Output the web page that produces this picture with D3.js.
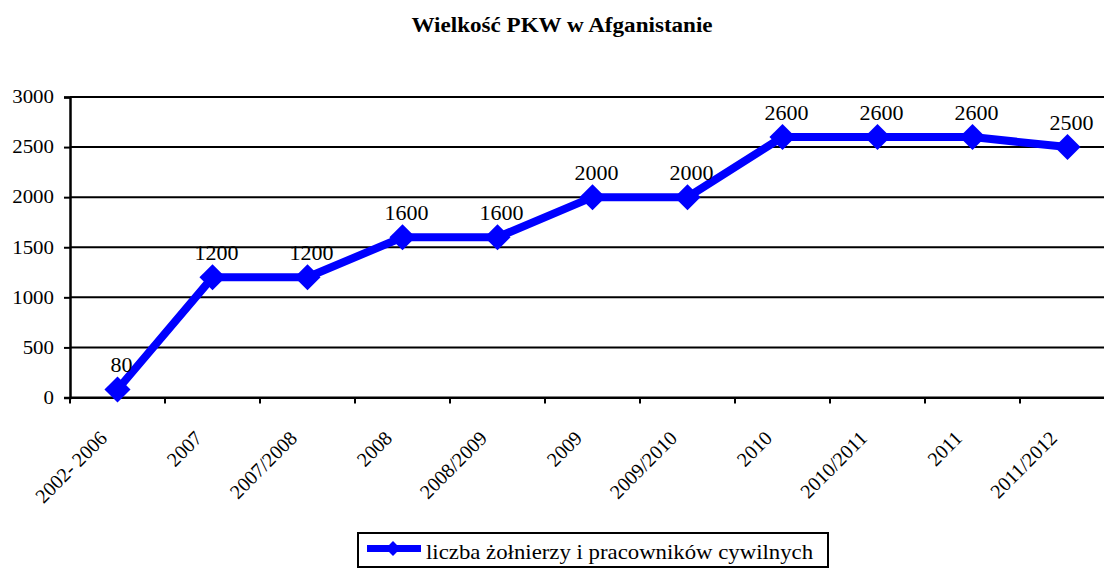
<!DOCTYPE html>
<html>
<head>
<meta charset="utf-8">
<script src="https://cdn.jsdelivr.net/npm/d3@7"></script>
<style>
  body { margin: 0; background: #fff; }
</style>
</head>
<body>
<svg id="chart" width="1104" height="568"></svg>
<script>
const width = 1104;
const height = 568;
const fontName = "Liberation Serif";
const stretch = 1.1; // reference text is slightly wider than tall

const categories = ["2002- 2006", "2007", "2007/2008", "2008", "2008/2009", "2009",
    "2009/2010", "2010", "2010/2011", "2011", "2011/2012"];
const values = [80, 1200, 1200, 1600, 1600, 2000, 2000, 2600, 2600, 2600, 2500];
const yTicks = [0, 500, 1000, 1500, 2000, 2500, 3000];
const seriesName = "liczba żołnierzy i pracowników cywilnych";
const title = "Wielkość PKW w Afganistanie";

const margin = { left: 70, top: 97, bottom: 397.5 };
const step = 95;

let svg = d3.select("#chart");

let x = d3.scaleBand()
    .domain(categories)
    .range([margin.left, margin.left + step * categories.length]);

let y = d3.scaleLinear()
    .domain([0, 3000])
    .range([margin.bottom, margin.top]);

const cx = d => x(d) + x.bandwidth() / 2;

svg.append("text")
    .attr("transform", `translate(562,32) scale(${stretch},1)`)
    .attr("text-anchor", "middle")
    .attr("font-family", fontName)
    .attr("font-size", "21px")
    .attr("font-weight", "bold")
    .text(title);

// gridlines
svg.append("g")
    .selectAll("line")
    .data(yTicks)
    .join("line")
    .attr("x1", margin.left)
    .attr("x2", width)
    .attr("y1", d => y(d))
    .attr("y2", d => y(d))
    .attr("stroke", "#000")
    .attr("stroke-width", 2);

// y axis
let yAxis = svg.append("g")
    .attr("transform", `translate(${margin.left},0)`)
    .call(d3.axisLeft(y).tickValues(yTicks).tickSize(6).tickFormat(""));
yAxis.select(".domain").attr("stroke-width", 2.5);
yAxis.selectAll(".tick line").attr("stroke-width", 2);

svg.append("g")
    .selectAll("text")
    .data(yTicks)
    .join("text")
    .attr("transform", d => `translate(54,${y(d)}) scale(${stretch},1)`)
    .attr("text-anchor", "end")
    .attr("dy", "0.33em")
    .attr("font-family", fontName)
    .attr("font-size", "19px")
    .text(d => d);

// x axis
let xAxis = svg.append("g")
    .attr("transform", `translate(0,${y(0)})`)
    .call(d3.axisBottom(x).tickSize(0).tickFormat(""));
xAxis.select(".domain").attr("stroke-width", 2);

svg.append("g")
    .selectAll("line")
    .data(categories)
    .join("line")
    .attr("x1", d => x(d))
    .attr("x2", d => x(d))
    .attr("y1", y(0))
    .attr("y2", y(0) + 6)
    .attr("stroke", "#000")
    .attr("stroke-width", 2);

svg.append("g")
    .selectAll("text")
    .data(categories)
    .join("text")
    .attr("transform", d => `translate(${cx(d) - 19},${y(0) + 32}) rotate(-45)`)
    .attr("text-anchor", "end")
    .attr("dy", "0.7em")
    .attr("font-family", fontName)
    .attr("font-size", "20px")
    .text(d => d);

// series
const pts = categories.map((c, i) => ({ cat: c, value: values[i] }));

let line = d3.line()
    .x(d => cx(d.cat))
    .y(d => y(d.value));

svg.append("path")
    .datum(pts)
    .attr("d", line)
    .attr("fill", "none")
    .attr("stroke", "#0000ff")
    .attr("stroke-width", 8)
    .attr("stroke-linejoin", "miter");

svg.append("g")
    .selectAll("path")
    .data(pts)
    .join("path")
    .attr("transform", d => `translate(${cx(d.cat)},${y(d.value)}) rotate(45)`)
    .attr("d", d3.symbol().type(d3.symbolSquare).size(340))
    .attr("fill", "#0000ff");

svg.append("g")
    .selectAll("text")
    .data(pts)
    .join("text")
    .attr("transform", d => `translate(${cx(d.cat) + 4},${y(d.value) - 17}) scale(${stretch},1)`)
    .attr("text-anchor", "middle")
    .attr("font-family", fontName)
    .attr("font-size", "20px")
    .text(d => d.value);

// legend
let legend = svg.append("g").attr("transform", "translate(358,533)");
legend.append("rect")
    .attr("width", 470)
    .attr("height", 34)
    .attr("fill", "#fff")
    .attr("stroke", "#000")
    .attr("stroke-width", 2);
legend.append("line")
    .attr("x1", 9).attr("x2", 63)
    .attr("y1", 15.5).attr("y2", 15.5)
    .attr("stroke", "#0000ff")
    .attr("stroke-width", 7);
legend.append("path")
    .attr("transform", "translate(35,15.5) rotate(45)")
    .attr("d", d3.symbol().type(d3.symbolSquare).size(110))
    .attr("fill", "#0000ff");
legend.append("text")
    .attr("transform", `translate(68,26) scale(1.085,1)`)
    .attr("font-family", fontName)
    .attr("font-size", "21px")
    .text(seriesName);
</script>
</body>
</html>
